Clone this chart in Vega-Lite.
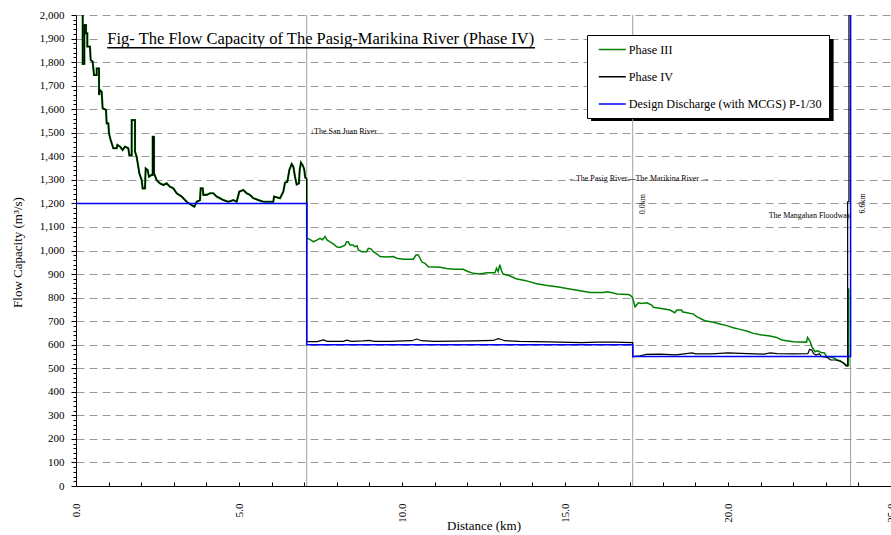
{
  "$schema": "https://vega.github.io/schema/vega-lite/v6.json",
  "width": 815,
  "height": 471,
  "autosize": {"type": "none"},
  "padding": {"left": 76, "top": 15, "right": 0, "bottom": 49},
  "background": "white",
  "config": {
    "view": {"stroke": null},
    "font": "Liberation Serif",
    "axis": {"labelFont": "Liberation Serif", "titleFont": "Liberation Serif", "labelColor": "black", "titleColor": "black", "domainColor": "black", "tickColor": "black", "titleFontWeight": "normal"},
    "text": {"font": "Liberation Serif", "color": "black"}
  },
  "datasets": {
    "up": [
      {"km": 0.205, "q": 2000}, {"km": 0.205, "q": 1792}, {"km": 0.256, "q": 1792}, {"km": 0.256, "q": 1957},
      {"km": 0.307, "q": 1957}, {"km": 0.307, "q": 1922}, {"km": 0.348, "q": 1922}, {"km": 0.348, "q": 1866},
      {"km": 0.429, "q": 1866}, {"km": 0.45, "q": 1809}, {"km": 0.511, "q": 1802}, {"km": 0.552, "q": 1745},
      {"km": 0.634, "q": 1745}, {"km": 0.634, "q": 1773}, {"km": 0.706, "q": 1773}, {"km": 0.706, "q": 1660},
      {"km": 0.736, "q": 1681}, {"km": 0.787, "q": 1674}, {"km": 0.818, "q": 1604}, {"km": 0.92, "q": 1597},
      {"km": 0.941, "q": 1540}, {"km": 0.992, "q": 1540}, {"km": 1.012, "q": 1497}, {"km": 1.063, "q": 1469},
      {"km": 1.145, "q": 1434}, {"km": 1.247, "q": 1434}, {"km": 1.268, "q": 1448}, {"km": 1.35, "q": 1441},
      {"km": 1.431, "q": 1427}, {"km": 1.503, "q": 1441}, {"km": 1.605, "q": 1434}, {"km": 1.636, "q": 1405},
      {"km": 1.708, "q": 1405}, {"km": 1.708, "q": 1554}, {"km": 1.81, "q": 1554}, {"km": 1.81, "q": 1420},
      {"km": 1.861, "q": 1398}, {"km": 1.943, "q": 1328}, {"km": 2.014, "q": 1299}, {"km": 2.045, "q": 1264},
      {"km": 2.117, "q": 1264}, {"km": 2.137, "q": 1349}, {"km": 2.198, "q": 1342}, {"km": 2.239, "q": 1313},
      {"km": 2.321, "q": 1321}, {"km": 2.352, "q": 1321}, {"km": 2.352, "q": 1483}, {"km": 2.393, "q": 1483},
      {"km": 2.393, "q": 1328}, {"km": 2.474, "q": 1299}, {"km": 2.577, "q": 1285}, {"km": 2.679, "q": 1278},
      {"km": 2.781, "q": 1285}, {"km": 2.883, "q": 1271}, {"km": 2.986, "q": 1264}, {"km": 3.088, "q": 1243},
      {"km": 3.241, "q": 1229}, {"km": 3.395, "q": 1207}, {"km": 3.548, "q": 1193}, {"km": 3.63, "q": 1186},
      {"km": 3.701, "q": 1207}, {"km": 3.804, "q": 1214}, {"km": 3.824, "q": 1264}, {"km": 3.886, "q": 1264},
      {"km": 3.906, "q": 1236}, {"km": 4.008, "q": 1236}, {"km": 4.11, "q": 1243}, {"km": 4.213, "q": 1243},
      {"km": 4.315, "q": 1229}, {"km": 4.417, "q": 1222}, {"km": 4.519, "q": 1214}, {"km": 4.673, "q": 1207},
      {"km": 4.826, "q": 1214}, {"km": 4.928, "q": 1207}, {"km": 5.01, "q": 1250}, {"km": 5.133, "q": 1257},
      {"km": 5.235, "q": 1243}, {"km": 5.337, "q": 1236}, {"km": 5.44, "q": 1222}, {"km": 5.593, "q": 1214},
      {"km": 5.746, "q": 1207}, {"km": 6.053, "q": 1207}, {"km": 6.074, "q": 1229}, {"km": 6.258, "q": 1222},
      {"km": 6.36, "q": 1250}, {"km": 6.411, "q": 1288}, {"km": 6.483, "q": 1292}, {"km": 6.544, "q": 1342},
      {"km": 6.616, "q": 1367}, {"km": 6.667, "q": 1356}, {"km": 6.718, "q": 1313}, {"km": 6.769, "q": 1280},
      {"km": 6.84, "q": 1285}, {"km": 6.86, "q": 1340}, {"km": 6.9, "q": 1373}, {"km": 6.96, "q": 1360},
      {"km": 7.0, "q": 1345}, {"km": 7.03, "q": 1310}, {"km": 7.077, "q": 1305}
    ],
    "p3": [
      {"km": 7.077, "q": 1305}, {"km": 7.077, "q": 1052}, {"km": 7.2, "q": 1045}, {"km": 7.28, "q": 1037},
      {"km": 7.4, "q": 1045}, {"km": 7.485, "q": 1052}, {"km": 7.56, "q": 1046}, {"km": 7.638, "q": 1059},
      {"km": 7.7, "q": 1045}, {"km": 7.791, "q": 1037}, {"km": 7.893, "q": 1028}, {"km": 7.997, "q": 1016},
      {"km": 8.098, "q": 1013}, {"km": 8.252, "q": 1023}, {"km": 8.303, "q": 1037}, {"km": 8.35, "q": 1037},
      {"km": 8.405, "q": 1023}, {"km": 8.5, "q": 1023}, {"km": 8.558, "q": 1016}, {"km": 8.62, "q": 1020},
      {"km": 8.66, "q": 1002}, {"km": 8.764, "q": 995}, {"km": 8.917, "q": 995}, {"km": 8.966, "q": 1009},
      {"km": 9.05, "q": 1007}, {"km": 9.12, "q": 995}, {"km": 9.2, "q": 988}, {"km": 9.273, "q": 981},
      {"km": 9.325, "q": 974}, {"km": 9.53, "q": 972}, {"km": 9.733, "q": 974}, {"km": 9.837, "q": 967},
      {"km": 10.04, "q": 963}, {"km": 10.347, "q": 963}, {"km": 10.43, "q": 981}, {"km": 10.5, "q": 981},
      {"km": 10.55, "q": 967}, {"km": 10.604, "q": 952}, {"km": 10.706, "q": 945}, {"km": 10.807, "q": 931},
      {"km": 11.166, "q": 929}, {"km": 11.37, "q": 924}, {"km": 11.6, "q": 920}, {"km": 11.88, "q": 920},
      {"km": 12.0, "q": 912}, {"km": 12.187, "q": 903}, {"km": 12.39, "q": 900}, {"km": 12.6, "q": 905},
      {"km": 12.85, "q": 905}, {"km": 12.9, "q": 925}, {"km": 12.95, "q": 910}, {"km": 13.0, "q": 940},
      {"km": 13.05, "q": 915}, {"km": 13.1, "q": 900}, {"km": 13.3, "q": 893}, {"km": 13.5, "q": 880},
      {"km": 13.8, "q": 872}, {"km": 14.1, "q": 860}, {"km": 14.4, "q": 852}, {"km": 14.8, "q": 845},
      {"km": 15.1, "q": 838}, {"km": 15.46, "q": 829}, {"km": 15.77, "q": 822}, {"km": 16.17, "q": 822},
      {"km": 16.3, "q": 825}, {"km": 16.48, "q": 820}, {"km": 16.59, "q": 815}, {"km": 16.94, "q": 813},
      {"km": 17.0, "q": 810}, {"km": 17.07, "q": 801}, {"km": 17.15, "q": 761}, {"km": 17.25, "q": 778},
      {"km": 17.35, "q": 775}, {"km": 17.51, "q": 778}, {"km": 17.66, "q": 768}, {"km": 17.71, "q": 759},
      {"km": 17.91, "q": 755}, {"km": 18.22, "q": 747}, {"km": 18.37, "q": 736}, {"km": 18.43, "q": 747},
      {"km": 18.58, "q": 747}, {"km": 18.6, "q": 740}, {"km": 18.94, "q": 730}, {"km": 19.04, "q": 719},
      {"km": 19.29, "q": 702}, {"km": 19.55, "q": 695}, {"km": 19.75, "q": 688}, {"km": 19.96, "q": 681},
      {"km": 20.16, "q": 672}, {"km": 20.37, "q": 665}, {"km": 20.57, "q": 658}, {"km": 20.78, "q": 648},
      {"km": 21.03, "q": 641}, {"km": 21.29, "q": 637}, {"km": 21.49, "q": 631}, {"km": 21.65, "q": 620},
      {"km": 22.0, "q": 613}, {"km": 22.41, "q": 611}, {"km": 22.44, "q": 631}, {"km": 22.52, "q": 613},
      {"km": 22.57, "q": 592}, {"km": 22.67, "q": 570}, {"km": 22.75, "q": 574}, {"km": 22.87, "q": 566},
      {"km": 22.95, "q": 566}, {"km": 23.03, "q": 549}, {"km": 23.15, "q": 548}, {"km": 23.23, "q": 545},
      {"km": 23.35, "q": 535}, {"km": 23.44, "q": 532}, {"km": 23.55, "q": 522}, {"km": 23.64, "q": 512},
      {"km": 23.7, "q": 512}, {"km": 23.7, "q": 840}
    ],
    "p4": [
      {"km": 7.077, "q": 1305}, {"km": 7.077, "q": 613}, {"km": 7.4, "q": 613}, {"km": 7.5, "q": 617},
      {"km": 7.6, "q": 620}, {"km": 7.7, "q": 614}, {"km": 8.2, "q": 614}, {"km": 8.3, "q": 619},
      {"km": 8.45, "q": 614}, {"km": 8.8, "q": 616}, {"km": 9.0, "q": 618}, {"km": 9.15, "q": 614},
      {"km": 9.6, "q": 614}, {"km": 10.3, "q": 617}, {"km": 10.45, "q": 624}, {"km": 10.6, "q": 617},
      {"km": 11.0, "q": 614}, {"km": 12.2, "q": 616}, {"km": 12.8, "q": 618}, {"km": 12.95, "q": 626},
      {"km": 13.05, "q": 622}, {"km": 13.15, "q": 617}, {"km": 13.6, "q": 614}, {"km": 14.5, "q": 612},
      {"km": 15.5, "q": 609}, {"km": 16.0, "q": 611}, {"km": 16.5, "q": 611}, {"km": 17.077, "q": 609},
      {"km": 17.077, "q": 549}, {"km": 17.3, "q": 553}, {"km": 17.5, "q": 559}, {"km": 17.9, "q": 560},
      {"km": 18.4, "q": 557}, {"km": 18.9, "q": 565}, {"km": 19.0, "q": 561}, {"km": 19.5, "q": 561},
      {"km": 20.0, "q": 565}, {"km": 20.6, "q": 562}, {"km": 21.1, "q": 560}, {"km": 21.3, "q": 565},
      {"km": 21.5, "q": 562}, {"km": 22.0, "q": 561}, {"km": 22.45, "q": 562}, {"km": 22.5, "q": 580},
      {"km": 22.57, "q": 577}, {"km": 22.62, "q": 563}, {"km": 22.7, "q": 556}, {"km": 22.8, "q": 562},
      {"km": 22.87, "q": 549}, {"km": 23.03, "q": 547}, {"km": 23.15, "q": 535}, {"km": 23.3, "q": 535},
      {"km": 23.44, "q": 530}, {"km": 23.55, "q": 521}, {"km": 23.62, "q": 510}, {"km": 23.67, "q": 510},
      {"km": 23.67, "q": 1207}, {"km": 23.71, "q": 1207}, {"km": 23.71, "q": 2100}
    ],
    "design": [
      {"km": 0, "q": 1200}, {"km": 7.077, "q": 1200}, {"km": 7.077, "q": 600}, {"km": 17.077, "q": 600},
      {"km": 17.077, "q": 550}, {"km": 23.76, "q": 550}, {"km": 23.76, "q": 2100}
    ]
  },
  "layer": [
    {
      "data": {"values": [{"x1": 0.74, "x2": 14.3, "y1": 1850, "y2": 1940}]},
      "mark": {"type": "rect", "fill": "white"},
      "encoding": {
        "x": {"field": "x1", "type": "quantitative", "scale": {"domain": [0, 25], "nice": false},
          "axis": {
            "title": "Distance (km)",
            "values": [0,1,2,3,4,5,6,7,8,9,10,11,12,13,14,15,16,17,18,19,20,21,22,23,24,25],
            "tickCount": 100,
            "labelExpr": "datum.value % 5 === 0 ? format(datum.value, '.1f') : ''",
            "labelAngle": -90, "labelAlign": "right", "labelBaseline": "middle",
            "labelFontSize": 11, "labelOverlap": false, "labelFlush": false,
            "tickSize": -4, "labelPadding": 21, "grid": false,
            "titleFontSize": 13, "titleY": 39, "titleBaseline": "middle"
          }},
        "x2": {"field": "x2"},
        "y": {"field": "y1", "type": "quantitative", "scale": {"domain": [0, 2000], "nice": false},
          "axis": {
            "title": "Flow Capacity (m³/s)",
            "values": [0,20,40,60,80,100,120,140,160,180,200,220,240,260,280,300,320,340,360,380,400,420,440,460,480,500,520,540,560,580,600,620,640,660,680,700,720,740,760,780,800,820,840,860,880,900,920,940,960,980,1000,1020,1040,1060,1080,1100,1120,1140,1160,1180,1200,1220,1240,1260,1280,1300,1320,1340,1360,1380,1400,1420,1440,1460,1480,1500,1520,1540,1560,1580,1600,1620,1640,1660,1680,1700,1720,1740,1760,1780,1800,1820,1840,1860,1880,1900,1920,1940,1960,1980,2000],
            "tickCount": 500,
            "labelExpr": "datum.value % 100 === 0 ? format(datum.value, ',') : ''",
            "labelFontSize": 11, "labelOverlap": false, "labelFlush": false,
            "tickSize": {"condition": {"test": "datum.value % 100 === 0", "value": 5}, "value": 3},
            "labelPadding": 7,
            "grid": true, "gridColor": "#999999", "gridDash": [8, 5],
            "gridOpacity": {"condition": {"test": "datum.value % 100 === 0 && datum.value > 0", "value": 1}, "value": 0},
            "titleFontSize": 13, "titleX": -59, "titleY": 237, "titleAngle": -90, "titleAlign": "center", "titleBaseline": "middle"
          }},
        "y2": {"field": "y2"}
      }
    },
    {
      "data": {"values": [{"x1": 15.8, "x2": 23.24, "y1": 1550, "y2": 1898}]},
      "mark": {"type": "rect", "fill": "black"},
      "encoding": {
        "x": {"field": "x1", "type": "quantitative"},
        "x2": {"field": "x2"},
        "y": {"field": "y1", "type": "quantitative"},
        "y2": {"field": "y2"}
      }
    },
    {
      "data": {"values": [{"km": 7.077}, {"km": 17.077}, {"km": 23.76}]},
      "mark": {"type": "rule", "color": "#a0a0a0", "strokeWidth": 1},
      "encoding": {"x": {"field": "km", "type": "quantitative"}}
    },
    {
      "data": {"name": "up"},
      "mark": {"type": "line", "strokeWidth": 2.1, "clip": true},
      "encoding": {
        "x": {"field": "km", "type": "quantitative"},
        "y": {"field": "q", "type": "quantitative"},
        "order": {"value": null},
        "color": {"datum": "Phase III", "type": "nominal",
          "scale": {"domain": ["Phase III", "Phase IV", "Design Discharge (with MCGS) P-1/30"], "range": ["#008000", "#000000", "#0000ff"]},
          "legend": {"orient": "none", "legendX": 511, "legendY": 20, "title": null, "symbolType": "M-0.4,0H3.6", "symbolSize": 182.25, "symbolStrokeWidth": 1.5, "labelFontSize": 12.2, "labelFont": "Liberation Serif", "labelColor": "black", "labelOffset": 19.8, "rowPadding": 13.25, "padding": 7, "strokeColor": "black", "fillColor": "white", "labelLimit": 400}}
      }
    },
    {
      "data": {"name": "p3"},
      "mark": {"type": "line", "strokeWidth": 1.5, "clip": true},
      "encoding": {
        "x": {"field": "km", "type": "quantitative"},
        "y": {"field": "q", "type": "quantitative"},
        "order": {"value": null},
        "color": {"datum": "Phase III", "type": "nominal"}
      }
    },
    {
      "data": {"name": "up"},
      "mark": {"type": "line", "strokeWidth": 1.2, "clip": true},
      "encoding": {
        "x": {"field": "km", "type": "quantitative"},
        "y": {"field": "q", "type": "quantitative"},
        "order": {"value": null},
        "color": {"datum": "Phase IV", "type": "nominal"}
      }
    },
    {
      "data": {"name": "p4"},
      "mark": {"type": "line", "strokeWidth": 1.2, "clip": true},
      "encoding": {
        "x": {"field": "km", "type": "quantitative"},
        "y": {"field": "q", "type": "quantitative"},
        "order": {"value": null},
        "color": {"datum": "Phase IV", "type": "nominal"}
      }
    },
    {
      "data": {"name": "design"},
      "mark": {"type": "line", "strokeWidth": 1.5, "clip": true},
      "encoding": {
        "x": {"field": "km", "type": "quantitative"},
        "y": {"field": "q", "type": "quantitative"},
        "order": {"value": null},
        "color": {"datum": "Design Discharge (with MCGS) P-1/30", "type": "nominal"}
      }
    },
    {
      "data": {"values": [
        {"km": 7.18, "q": 1504, "label": "↓The San Juan River"},
        {"km": 15.09, "q": 1302, "label": "←The Pasig River—The Marikina River →"}
      ]},
      "mark": {"type": "text", "align": "left", "baseline": "middle", "fontSize": 8},
      "encoding": {
        "x": {"field": "km", "type": "quantitative"},
        "y": {"field": "q", "type": "quantitative"},
        "text": {"field": "label"}
      }
    },
    {
      "data": {"values": [{"km": 23.77, "q": 1146, "label": "The Mangahan Floodway"}]},
      "mark": {"type": "text", "align": "right", "baseline": "middle", "fontSize": 8},
      "encoding": {
        "x": {"field": "km", "type": "quantitative"},
        "y": {"field": "q", "type": "quantitative"},
        "text": {"field": "label"}
      }
    },
    {
      "data": {"values": [{"km": 17.38, "q": 1197, "label": "0.0km"}, {"km": 24.14, "q": 1200, "label": "6.6km"}]},
      "mark": {"type": "text", "align": "center", "baseline": "middle", "fontSize": 8, "angle": 270},
      "encoding": {
        "x": {"field": "km", "type": "quantitative"},
        "y": {"field": "q", "type": "quantitative"},
        "text": {"field": "label"}
      }
    },
    {
      "data": {"values": [{"km": 0.96, "q": 1876, "label": "Fig- The Flow Capacity of The Pasig-Marikina River (Phase IV)"}]},
      "mark": {"type": "text", "align": "left", "baseline": "alphabetic", "fontSize": 16.5},
      "encoding": {
        "x": {"field": "km", "type": "quantitative"},
        "y": {"field": "q", "type": "quantitative"},
        "text": {"field": "label"}
      }
    },
    {
      "data": {"values": [{"x1": 0.96, "x2": 14.08, "q": 1861}]},
      "mark": {"type": "rule", "color": "black", "strokeWidth": 1.5},
      "encoding": {
        "x": {"field": "x1", "type": "quantitative"},
        "x2": {"field": "x2"},
        "y": {"field": "q", "type": "quantitative"}
      }
    }
  ]
}
